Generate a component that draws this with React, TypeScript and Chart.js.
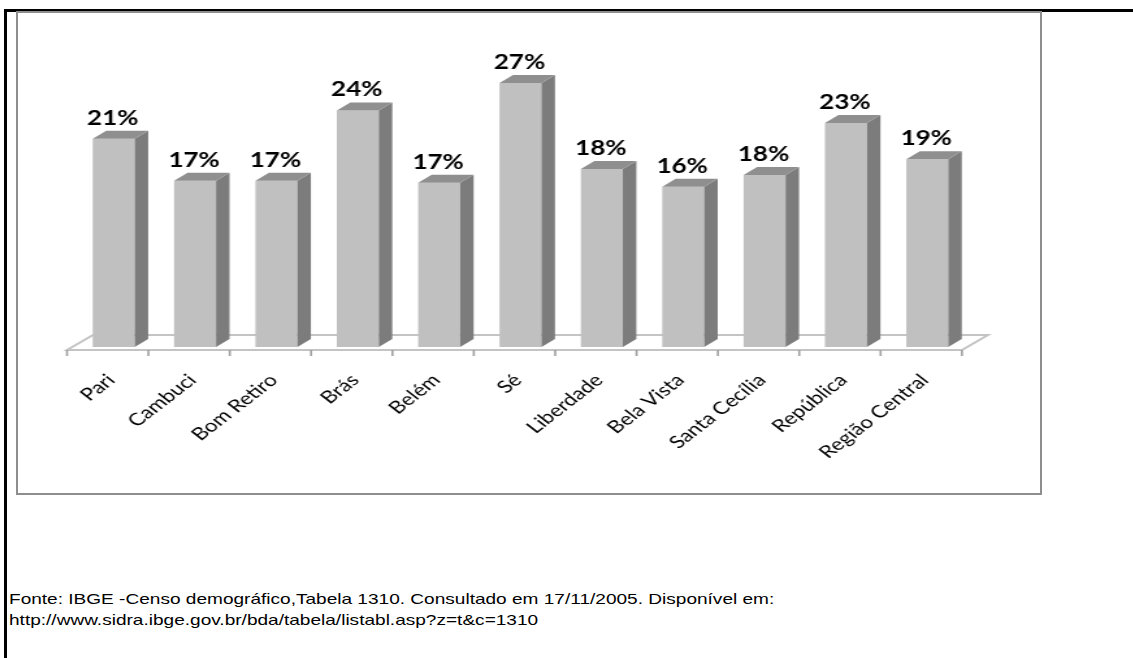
import React, { useEffect, useRef } from 'react';
import { Chart, registerables } from 'chart.js';

Chart.register(...registerables);

const categories = ['Pari', 'Cambuci', 'Bom Retiro', 'Brás', 'Belém', 'Sé', 'Liberdade', 'Bela Vista', 'Santa Cecília', 'República', 'Região Central'];
const values = [21.3, 17.0, 17.0, 24.2, 16.8, 27.0, 18.2, 16.4, 17.6, 22.9, 19.2];
const valueLabels = ['21%', '17%', '17%', '24%', '17%', '27%', '18%', '16%', '18%', '23%', '19%'];
const sourceLines = [
  'Fonte: IBGE -Censo demográfico,Tabela 1310. Consultado em 17/11/2005. Disponível em:',
  'http://www.sidra.ibge.gov.br/bda/tabela/listabl.asp?z=t&c=1310',
];

const S = 1.3; // horizontal stretch of the chart picture
const W = 788;
const H = 482;

const bar3d = {
  id: 'bar3d',
  beforeDatasetsDraw(chart: any) {
    const { ctx, chartArea: ca } = chart;
    const xs = chart.scales.x;
    const n = categories.length;
    const shift = -6 / S;
    const fx0 = ca.left + shift;
    const fx1 = ca.right + shift;
    const fy = ca.bottom + 3;
    const ddx = 26 / S;
    const ddy = -15;
    ctx.save();
    ctx.strokeStyle = '#c4c4c4';
    ctx.lineWidth = 2;
    ctx.beginPath();
    ctx.moveTo(fx0, fy);
    ctx.lineTo(fx1, fy);
    ctx.lineTo(fx1 + ddx, fy + ddy);
    ctx.lineTo(fx0 + ddx, fy + ddy);
    ctx.closePath();
    ctx.stroke();
    ctx.strokeStyle = '#a0a0a0';
    ctx.lineWidth = 1.6;
    for (let i = 0; i <= n; i++) {
      const x = xs.getPixelForValue(i - 0.5) + shift;
      ctx.beginPath();
      ctx.moveTo(x, fy);
      ctx.lineTo(x, fy + 6);
      ctx.stroke();
    }
    ctx.restore();
  },
  afterDatasetsDraw(chart: any) {
    const { ctx } = chart;
    const meta = chart.getDatasetMeta(0);
    const dx = 13.5 / S;
    const dy = -8;
    ctx.save();
    meta.data.forEach((bar: any, i: number) => {
      const p = bar.getProps(['x', 'y', 'base', 'width'], true);
      const l = p.x - p.width / 2;
      const r = p.x + p.width / 2;
      ctx.fillStyle = '#7c7c7c';
      ctx.beginPath();
      ctx.moveTo(r, p.y);
      ctx.lineTo(r + dx, p.y + dy);
      ctx.lineTo(r + dx, p.base + dy);
      ctx.lineTo(r, p.base);
      ctx.closePath();
      ctx.fill();
      ctx.fillStyle = '#8f8f8f';
      ctx.beginPath();
      ctx.moveTo(l, p.y);
      ctx.lineTo(l + dx, p.y + dy);
      ctx.lineTo(r + dx, p.y + dy);
      ctx.lineTo(r, p.y);
      ctx.closePath();
      ctx.fill();
      ctx.fillStyle = '#000';
      ctx.font = 'bold 20px Lato';
      ctx.textAlign = 'center';
      ctx.textBaseline = 'alphabetic';
      ctx.fillText(valueLabels[i], p.x - 1 / S, p.y - 14);
    });
    ctx.restore();
  },
};

export default function App() {
  const ref = useRef<HTMLCanvasElement | null>(null);
  useEffect(() => {
    if (!ref.current) return;
    const chart = new Chart(ref.current, {
      type: 'bar',
      data: {
        labels: categories,
        datasets: [
          {
            data: values,
            backgroundColor: '#c0c0c0',
            borderWidth: 0,
            barPercentage: 0.516,
            categoryPercentage: 1,
          },
        ],
      },
      options: {
        responsive: false,
        animation: false,
        devicePixelRatio: 1,
        layout: { padding: { left: 43.1, right: W - 731.5, top: 41.7, bottom: 0 } },
        plugins: { legend: { display: false }, tooltip: { enabled: false }, title: { display: false } },
        scales: {
          x: {
            grid: { display: false, drawTicks: false },
            border: { display: false },
            ticks: {
              autoSkip: false,
              maxRotation: 45,
              minRotation: 45,
              padding: 23,
              labelOffset: -2,
              color: '#000',
              font: { family: 'Lato', size: 17.3 },
            },
            afterFit: (scale: any) => {
              scale.height = 147;
            },
          },
          y: { display: false, min: 0, max: 30 },
        },
      },
      plugins: [bar3d],
    });
    return () => chart.destroy();
  }, []);

  return (
    <div style={{ position: 'absolute', left: 0, top: 0, width: 1133, height: 658, background: '#fff', overflow: 'hidden' }}>
      <div style={{ position: 'absolute', left: 4, top: 9, width: 3, height: 649, background: '#000' }} />
      <div style={{ position: 'absolute', left: 4, top: 9, width: 1129, height: 3, background: '#000' }} />
      <div style={{ position: 'absolute', left: 16, top: 11, width: 1022, height: 480, border: '2px solid #8e8e8e', background: '#fff' }} />
      <canvas
        ref={ref}
        width={W}
        height={H}
        style={{ position: 'absolute', left: 17, top: 12, width: W, height: H, transform: `scaleX(${S})`, transformOrigin: '0 0' }}
      />
      <div
        style={{
          position: 'absolute',
          left: 9,
          top: 588,
          fontFamily: '"Liberation Sans", Arial, sans-serif',
          fontSize: 15,
          lineHeight: '21px',
          color: '#000',
          whiteSpace: 'pre',
          transform: 'scaleX(1.27)',
          transformOrigin: '0 0',
        }}
      >
        {sourceLines.map((s) => (
          <div key={s}>{s}</div>
        ))}
      </div>
    </div>
  );
}
